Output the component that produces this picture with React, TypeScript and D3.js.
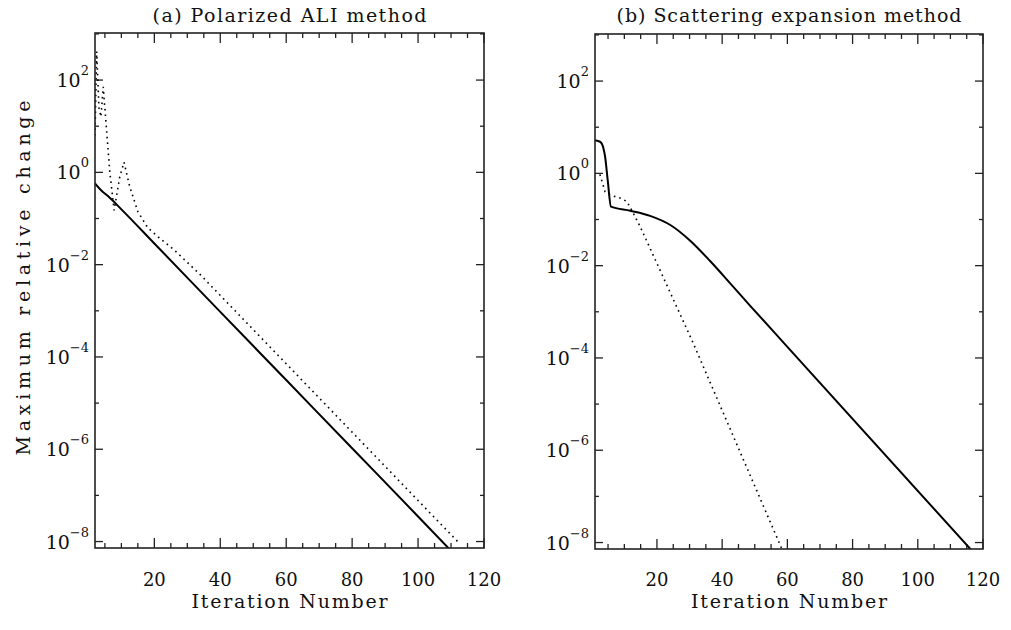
import React from "react";
import * as d3 from "d3";

// ---------- data ----------
const xTicksMajor = [20, 40, 60, 80, 100, 120];
const yLabelExps = [2, 0, -2, -4, -6, -8];
const yDecades = [3, 2, 1, 0, -1, -2, -3, -4, -5, -6, -7, -8];

const titleA = "(a) Polarized ALI method";
const titleB = "(b) Scattering expansion method";
const xTitle = "Iteration Number";
const yTitle = "Maximum relative change";

// panel (a) solid
const aSolidX = [2, 4, 6, 10, 20, 40, 60, 80, 100, 110];
const aSolidY = [0.575, 0.398, 0.302, 0.158, 0.0288, 9.5e-4, 3.16e-5, 1.05e-6, 3.5e-8, 6.3e-9];
// panel (a) dotted
const aDotX = [2, 2.5, 3.2, 3.8, 4.5, 5.2, 6.5, 7.8, 9.5, 10.8, 12.5, 15, 18, 22, 26, 30, 34, 112];
const aDotY = [6.3, 417, 25, 16, 71, 16, 1.0, 0.15, 0.79, 1.66, 0.5, 0.141, 0.063, 0.0355, 0.0209, 0.0112, 6.0e-3, 1.0e-8];
// panel (b) solid
const bSolidX = [1, 2.6, 3.6, 4.1, 4.9, 5.9, 11.8, 17.9, 24.1, 30.2, 36.3, 42.4, 48.6, 60, 117];
const bSolidY = [5.25, 4.8, 3.47, 2.29, 0.71, 0.19, 0.155, 0.12, 0.076, 0.0347, 0.0126, 4.2e-3, 1.35e-3, 1.74e-4, 6.2e-9];
// panel (b) dotted
const bDotX = [2.5, 4.1, 5.6, 8.8, 10.8, 12.8, 14.9, 20, 25.1, 30.7, 59];
const bDotY = [0.95, 0.4, 0.34, 0.29, 0.245, 0.135, 0.069, 0.0112, 1.8e-3, 2.45e-4, 5.6e-9];

const FONT = "DejaVu Serif";

type PanelProps = {
  id: string;
  left: number; right: number; top: number; bottom: number;
  xMin: number;
  title: string; titleLen: number;
  solidX: number[]; solidY: number[];
  dotX: number[]; dotY: number[];
  showYTitle: boolean;
};

function Panel(p: PanelProps) {
  const x = d3.scaleLinear().domain([p.xMin, 120]).range([p.left, p.right]);
  const y = d3.scaleLog().domain([Math.pow(10, -8.14), Math.pow(10, 3.02)]).range([p.bottom, p.top]);
  const mk = (xs: number[], ys: number[], smooth: boolean) =>
    d3.line<number>()
      .x((_, i) => x(xs[i]))
      .y((_, i) => y(ys[i]))
      .curve(smooth ? d3.curveMonotoneX : d3.curveLinear)(xs) || "";
  const minorX = d3.range(5, 121, 5).filter((v) => v % 20 !== 0 && v > p.xMin);
  const cx = (p.left + p.right) / 2;
  const clipId = "clip-" + p.id;
  return (
    <g>
      <defs>
        <clipPath id={clipId}>
          <rect x={p.left} y={p.top} width={p.right - p.left} height={p.bottom - p.top} />
        </clipPath>
      </defs>
      <text x={cx} y={22} textAnchor="middle" fontFamily={FONT} fontSize={19} fill="#111"
        textLength={p.titleLen} lengthAdjust="spacing">{p.title}</text>
      {/* x ticks */}
      {xTicksMajor.map((v) => (
        <g key={"xm" + v}>
          <line x1={x(v)} x2={x(v)} y1={p.bottom} y2={p.bottom - 10} stroke="#222" strokeWidth={1.3} />
          <line x1={x(v)} x2={x(v)} y1={p.top} y2={p.top + 10} stroke="#222" strokeWidth={1.3} />
          <text x={x(v)} y={586} textAnchor="middle" fontFamily={FONT} fontSize={18} fill="#111">{v}</text>
        </g>
      ))}
      {minorX.map((v) => (
        <g key={"xn" + v}>
          <line x1={x(v)} x2={x(v)} y1={p.bottom} y2={p.bottom - 5} stroke="#222" strokeWidth={1.3} />
          <line x1={x(v)} x2={x(v)} y1={p.top} y2={p.top + 5} stroke="#222" strokeWidth={1.3} />
        </g>
      ))}
      <text x={cx} y={608} textAnchor="middle" fontFamily={FONT} fontSize={19} fill="#111"
        textLength={196} lengthAdjust="spacing">{xTitle}</text>
      {/* y ticks */}
      {yDecades.map((e) => {
        const major = e % 2 === 0;
        const len = major ? 8 : 4;
        const yy = y(Math.pow(10, e));
        return (
          <g key={"y" + e}>
            <line x1={p.left} x2={p.left + len} y1={yy} y2={yy} stroke="#222" strokeWidth={1.3} />
            <line x1={p.right} x2={p.right - len} y1={yy} y2={yy} stroke="#222" strokeWidth={1.3} />
          </g>
        );
      })}
      {yLabelExps.map((e) => {
        const yy = y(Math.pow(10, e));
        return (
          <text key={"yl" + e} x={p.left - 6} y={yy + 7} textAnchor="end" fontFamily={FONT} fill="#111">
            <tspan fontSize={19}>10</tspan>
            <tspan fontSize={13} dy={-12}>{e < 0 ? "\u2212" + Math.abs(e) : String(e)}</tspan>
          </text>
        );
      })}
      {p.showYTitle && (
        <text transform={`translate(30,${278}) rotate(-90)`} textAnchor="middle" fontFamily={FONT} fontSize={19} fill="#111"
          textLength={355} lengthAdjust="spacing">{yTitle}</text>
      )}
      {/* lines */}
      <g clipPath={`url(#${clipId})`}>
        <path d={mk(p.solidX, p.solidY, true)} fill="none" stroke="#000" strokeWidth={2} />
        <path d={mk(p.dotX, p.dotY, false)} fill="none" stroke="#000" strokeWidth={1.6} strokeDasharray="1.6,4" />
      </g>
      <rect x={p.left} y={p.top} width={p.right - p.left} height={p.bottom - p.top} fill="none" stroke="#222" strokeWidth={1.6} />
    </g>
  );
}

export default function App() {
  return (
    <svg width={1011} height={630} style={{ position: "absolute", left: 0, top: 0, background: "#fff" }}>
      <rect x={0} y={0} width={1011} height={630} fill="#fff" />
      <Panel id="a" left={95} right={484} top={33} bottom={548} xMin={2} title={titleA} titleLen={274}
        solidX={aSolidX} solidY={aSolidY} dotX={aDotX} dotY={aDotY} showYTitle={true} />
      <Panel id="b" left={595} right={983} top={34} bottom={549} xMin={1} title={titleB} titleLen={345}
        solidX={bSolidX} solidY={bSolidY} dotX={bDotX} dotY={bDotY} showYTitle={false} />
    </svg>
  );
}
